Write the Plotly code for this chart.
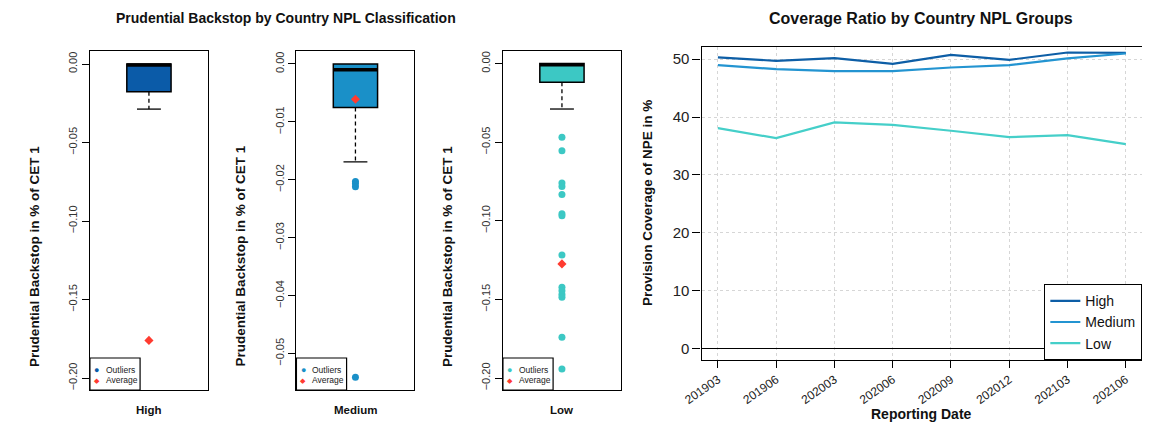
import plotly.graph_objects as go

# ---------------- data ----------------
groups = ["High", "Medium", "Low"]
box_colors = ["#0B5BA8", "#1A90C8", "#3CC8C4"]
q1 = [-0.0176, -0.0075, -0.0119]
median = [-0.0006, -0.0010, -0.0007]
q3 = [0.0, 0.0, 0.0]
lower_whisker = [-0.0287, -0.0169, -0.0289]
upper_whisker = [0.0, 0.0, 0.0]
averages = [-0.1760, -0.0061, -0.1274]
outliers_high = []
outliers_medium = [-0.0203, -0.0207, -0.0212, -0.0541]
outliers_low = [-0.0469, -0.0554, -0.0760, -0.0781, -0.0832, -0.0955, -0.0968,
                -0.1217, -0.1423, -0.1444, -0.1469, -0.1486, -0.1741, -0.1943]
outliers = [outliers_high, outliers_medium, outliers_low]

dates = ["201903", "201906", "202003", "202006", "202009", "202012", "202103", "202106"]
cov_high = [50.29, 49.71, 50.17, 49.19, 50.75, 49.88, 51.15, 51.09]
cov_medium = [48.96, 48.27, 47.93, 47.93, 48.56, 48.96, 50.12, 50.98]
cov_low = [38.08, 36.35, 39.06, 38.65, 37.62, 36.52, 36.87, 35.31]
line_colors = ["#0D5EA6", "#2394D1", "#45CFC9"]

# ---------------- layout helpers ----------------
# the page body keeps its default 8px margin, so the figure is drawn 8px in
OFF = 8
W, H = 1150 - OFF, 424 - OFF
def fx(px):
    return (px - OFF) / W
def fy(py):
    return 1 - (py - OFF) / H

FONT = "Liberation Sans, Arial, sans-serif"

panel_left = [72, 282, 492]
panel_w = 120
box_top, box_bot = 51, 390
y_ranges = [[-0.2076, 0.0083], [-0.0563, 0.00224], [-0.2076, 0.0080]]
y_ticks = [[-0.20, -0.15, -0.10, -0.05, 0.0],
           [-0.05, -0.04, -0.03, -0.02, -0.01, 0.0],
           [-0.20, -0.15, -0.10, -0.05, 0.0]]

fig = go.Figure()
layout = dict(
    width=W, height=H, margin=dict(l=0, r=0, t=0, b=0),
    paper_bgcolor="white", plot_bgcolor="white",
    font=dict(family=FONT, color="#111111"),
    showlegend=True,
)
annotations = []
shapes = []

for i, g in enumerate(groups):
    xa = "x" if i == 0 else f"x{i+1}"
    ya = "y" if i == 0 else f"y{i+1}"
    xkey = "xaxis" if i == 0 else f"xaxis{i+1}"
    ykey = "yaxis" if i == 0 else f"yaxis{i+1}"
    col = box_colors[i]

    # box body
    fig.add_trace(go.Box(
        x=[0], q1=[q1[i]], median=[median[i]], q3=[q3[i]],
        lowerfence=[q1[i]], upperfence=[q3[i]], width=1,
        fillcolor=col, line=dict(color="black", width=1.5),
        boxpoints=False, hoverinfo="skip", showlegend=False,
        xaxis=xa, yaxis=ya))
    # thick median
    fig.add_trace(go.Scatter(
        x=[-0.5, 0.5], y=[median[i], median[i]], mode="lines",
        line=dict(color="black", width=3.5), showlegend=False,
        hoverinfo="skip", xaxis=xa, yaxis=ya))
    # dashed lower whisker + cap
    fig.add_trace(go.Scatter(
        x=[0, 0], y=[q1[i], lower_whisker[i]], mode="lines",
        line=dict(color="black", width=1.3, dash="4px,3px"), showlegend=False,
        hoverinfo="skip", xaxis=xa, yaxis=ya))
    fig.add_trace(go.Scatter(
        x=[-0.27, 0.27], y=[lower_whisker[i], lower_whisker[i]], mode="lines",
        line=dict(color="black", width=1.3), showlegend=False,
        hoverinfo="skip", xaxis=xa, yaxis=ya))
    if upper_whisker[i] > q3[i]:
        fig.add_trace(go.Scatter(
            x=[0, 0], y=[q3[i], upper_whisker[i]], mode="lines",
            line=dict(color="black", width=1.3, dash="4px,3px"), showlegend=False,
            hoverinfo="skip", xaxis=xa, yaxis=ya))
    # outliers
    if outliers[i]:
        fig.add_trace(go.Scatter(
            x=[0] * len(outliers[i]), y=outliers[i], mode="markers",
            marker=dict(color=col, size=7, symbol="circle"), showlegend=False,
            xaxis=xa, yaxis=ya))
    # average
    fig.add_trace(go.Scatter(
        x=[0], y=[averages[i]], mode="markers",
        marker=dict(color="#FF3B30", size=7, symbol="diamond"), showlegend=False,
        xaxis=xa, yaxis=ya))

    L = panel_left[i]
    layout[xkey] = dict(
        domain=[fx(L), fx(L + panel_w)], range=[-1.333, 1.333], anchor=ya,
        showgrid=False, zeroline=False, showticklabels=False, ticks="",
        showline=True, linecolor="black", linewidth=1.3, mirror=True, fixedrange=True)
    layout[ykey] = dict(
        domain=[fy(box_bot), fy(box_top)], range=y_ranges[i], anchor=xa,
        tickvals=y_ticks[i], tickformat=".2f", tickangle=-90,
        ticks="outside", ticklen=7, tickcolor="black", tickwidth=1.2,
        tickfont=dict(size=11, color="#333333"),
        showgrid=False, zeroline=False,
        showline=True, linecolor="black", linewidth=1.3, mirror=True)

    # y-axis title
    annotations.append(dict(
        x=fx(L - 57), y=fy(256), xref="paper", yref="paper",
        text="<b>Prudential Backstop in % of CET 1</b>", textangle=-90,
        showarrow=False, font=dict(size=13.5, color="#111111"),
        xanchor="center", yanchor="middle"))
    # category label
    annotations.append(dict(
        x=fx(L + panel_w / 2), y=fy(410), xref="paper", yref="paper",
        text=f"<b>{g}</b>", showarrow=False, font=dict(size=11.5, color="#111111"),
        xanchor="center", yanchor="middle"))
    # mini legend box
    shapes.append(dict(
        type="rect", xref="paper", yref="paper",
        x0=fx(L), x1=fx(L + 51), y0=fy(390), y1=fy(358),
        line=dict(color="black", width=1.2), fillcolor="white", layer="above"))
    annotations.append(dict(
        x=fx(L + 7), y=fy(369.5), xref="paper", yref="paper", text="●",
        showarrow=False, font=dict(size=9, color=col), xanchor="center", yanchor="middle"))
    annotations.append(dict(
        x=fx(L + 7), y=fy(380), xref="paper", yref="paper", text="◆",
        showarrow=False, font=dict(size=7, color="#FF3B30"), xanchor="center", yanchor="middle"))
    annotations.append(dict(
        x=fx(L + 14), y=fy(369.5), xref="paper", yref="paper", text="Outliers",
        showarrow=False, font=dict(size=8.5, color="#222222"), xanchor="left", yanchor="middle"))
    annotations.append(dict(
        x=fx(L + 14), y=fy(380), xref="paper", yref="paper", text="Average",
        showarrow=False, font=dict(size=8.5, color="#222222"), xanchor="left", yanchor="middle"))

# ---------------- right chart ----------------
for name, vals, col in zip(groups, [cov_high, cov_medium, cov_low], line_colors):
    fig.add_trace(go.Scatter(
        x=dates, y=vals, mode="lines", name=name,
        line=dict(color=col, width=2.2), xaxis="x4", yaxis="y4"))

layout["xaxis4"] = dict(
    domain=[fx(694), fx(1142)], anchor="y4", type="category", range=[-0.28, 7.28],
    ticks="outside", ticklen=7, tickcolor="black", tickangle=-35,
    tickfont=dict(size=12, color="#222222"),
    showgrid=True, gridcolor="#d6d6d6", griddash="dot", gridwidth=1,
    showline=True, linecolor="black", linewidth=1.3, mirror=True, zeroline=False)
layout["yaxis4"] = dict(
    domain=[fy(360), fy(47)], anchor="x4", range=[-2.0, 52.1],
    tickvals=[0, 10, 20, 30, 40, 50], ticks="outside", ticklen=8, tickcolor="black",
    tickfont=dict(size=15, color="#222222"),
    showgrid=True, gridcolor="#d6d6d6", griddash="dot", gridwidth=1,
    zeroline=True, zerolinecolor="black", zerolinewidth=1.2,
    showline=True, linecolor="black", linewidth=1.3, mirror=True)

layout["legend"] = dict(
    x=fx(1142), xanchor="right", y=fy(360), yanchor="bottom",
    bgcolor="white", bordercolor="black", borderwidth=1.2,
    font=dict(size=14, color="#111111"), tracegroupgap=0, itemwidth=30)

annotations.append(dict(
    x=fx(639), y=fy(203.5), xref="paper", yref="paper",
    text="<b>Provision Coverage of NPE in %</b>", textangle=-90, showarrow=False,
    font=dict(size=13.5, color="#111111"), xanchor="center", yanchor="middle"))
annotations.append(dict(
    x=fx(918), y=fy(414), xref="paper", yref="paper",
    text="<b>Reporting Date</b>", showarrow=False,
    font=dict(size=14, color="#111111"), xanchor="center", yanchor="middle"))

# titles
annotations.append(dict(
    x=fx(271), y=fy(18), xref="paper", yref="paper",
    text="<b>Prudential Backstop by Country NPL Classification</b>", showarrow=False,
    font=dict(size=14, color="#111111"), xanchor="center", yanchor="middle"))
annotations.append(dict(
    x=fx(917), y=fy(18), xref="paper", yref="paper",
    text="<b>Coverage Ratio by Country NPL Groups</b>", showarrow=False,
    font=dict(size=16, color="#111111"), xanchor="center", yanchor="middle"))

layout["annotations"] = annotations
layout["shapes"] = shapes
fig.update_layout(**layout)

fig.write_html("out.html")
